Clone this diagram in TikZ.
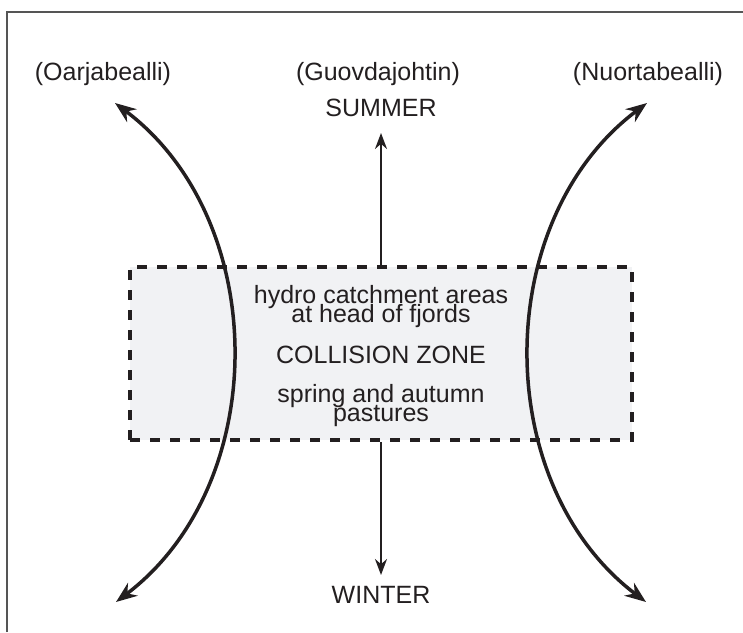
\documentclass[tikz,border=0pt]{standalone}
\usepackage{fontspec}
\setsansfont{Liberation Sans}
\usepackage{xcolor}
\definecolor{ink}{HTML}{231F20}
\definecolor{framegray}{HTML}{555555}
\definecolor{zonefill}{HTML}{F1F2F4}
\usepackage{tikz}
\usetikzlibrary{arrows.meta, positioning}
\newcommand\tightlines{\lineskiplimit=-50pt\relax}

\begin{document}
\begin{tikzpicture}[
  x=1pt, y=-1pt,
  lbl/.style={font=\sffamily\fontsize{25}{19}\selectfont\tightlines,
    text=ink, inner sep=0pt, align=center, anchor=base},
  zone/.style={draw=ink, fill=zonefill, line width=4.5pt,
    dash pattern=on 10pt off 10pt, inner sep=0pt,
    minimum width=502pt, minimum height=173pt},
  route/.style={ink, line width=3.5pt,
    {Stealth[length=21pt,width=16pt]}-{Stealth[length=21pt,width=16pt]}},
  season/.style={ink, line width=2.2pt, -{Stealth[length=16pt,width=12pt]}}
]
  \useasboundingbox (0,0) rectangle (743,632);
  \draw[framegray, line width=1.5pt] (7,632) -- (7,12) -- (743,12);

  \node[zone] (zone) at (381,353.5) {};

  \coordinate (summertip) at (381,133);
  \coordinate (wintertip) at (381,575);
  \draw[season] (zone.north) -- (summertip);
  \draw[season] (zone.south) -- (wintertip);

  \coordinate (oarjN) at (115,103);
  \coordinate (oarjS) at (116,602);
  \coordinate (nuorN) at (647,103);
  \coordinate (nuorS) at (646,602);
  \draw[route] (oarjN) to[bend left=53] (oarjS);
  \draw[route] (nuorN) to[bend right=53] (nuorS);

  \node[lbl] (oarj) at (103,80) {(Oarjabealli)};
  \node[lbl] (guov) at (378,80) {(Guovdajohtin)};
  \node[lbl] (nuor) at (648,80) {(Nuortabealli)};
  \node[lbl] (summer) at (381,116) {SUMMER};
  \node[lbl] (winter) at (381,603) {WINTER};

  % base of a two-line node sits on its last line
  \node[lbl] (hydro) at (381,322) {hydro catchment areas\\at head of fjords};
  \node[lbl] (collision) at (381,363) {COLLISION ZONE};
  \node[lbl] (spring) at (381,421) {spring and autumn\\pastures};
\end{tikzpicture}
\end{document}
